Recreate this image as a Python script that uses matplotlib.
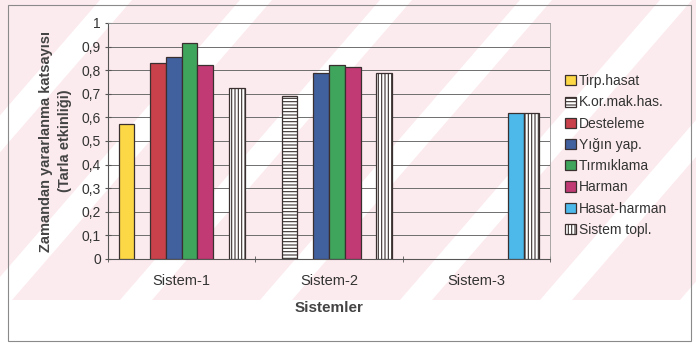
import numpy as np
import matplotlib.pyplot as plt
from matplotlib.patches import Rectangle, Polygon

plt.rcParams['font.family'] = ['Liberation Sans', 'DejaVu Sans']
plt.rcParams['hatch.linewidth'] = 0.8

# zamandan yararlanma katsayilari (tarla etkinligi)
sistemler = ['Sistem-1', 'Sistem-2', 'Sistem-3']
islemler = ['Tirp.hasat', 'K.or.mak.has.', 'Desteleme', 'Yığın yap.',
            'Tırmıklama', 'Harman', 'Hasat-harman', 'Sistem topl.']
degerler = {
    'Tirp.hasat':    [0.57, np.nan, np.nan],
    'K.or.mak.has.': [np.nan, 0.69, np.nan],
    'Desteleme':     [0.83, np.nan, np.nan],
    'Yığın yap.':    [0.855, 0.79, np.nan],
    'Tırmıklama':    [0.915, 0.82, np.nan],
    'Harman':        [0.82, 0.815, np.nan],
    'Hasat-harman':  [np.nan, np.nan, 0.62],
    'Sistem topl.':  [0.725, 0.79, 0.62],
}
renkler = ['#FCD846', 'white', '#C8414B', '#41609E', '#3FA45C',
           '#C23A74', '#4DB8EA', 'white']
taramalar = [None, '-----', None, None, None, None, None, '|||||']

W, H = 696, 345
fig = plt.figure(figsize=(W / 100, H / 100), dpi=100)


def piksel(pts):
    # piksel koordinatlarini (ust-sol orijin) sekil koordinatlarina cevir
    return [(px / W, 1 - py / H) for px, py in pts]


# arka plandaki soluk pembe zemin ve beyaz capraz seritler
fig.patches.append(Polygon(piksel([(0, 0), (W, 0), (W, 300), (0, 300)]),
                           closed=True, transform=fig.transFigure,
                           facecolor='#FCEBEE', edgecolor='none', zorder=-10))
for x0 in np.arange(-300, 900, 140):
    fig.patches.append(Polygon(piksel([(x0, 300), (x0 + 32, 300),
                                       (x0 + 32 + 260, 0), (x0 + 260, 0)]),
                               closed=True, transform=fig.transFigure,
                               facecolor='white', edgecolor='none', zorder=-9))

fig.patches.append(Rectangle((8 / W, 1 - 341 / H), 683 / W, 336 / H,
                             transform=fig.transFigure, facecolor='none',
                             edgecolor='#8a8a8a', lw=0.8, zorder=-5))

ax = fig.add_axes([108 / W, 1 - 259 / H, 442 / W, 236 / H])
ax.patch.set_alpha(0)

x = np.arange(len(sistemler))
w = 0.107
for i, ad in enumerate(islemler):
    ax.bar(x + (i - 3.5) * w, degerler[ad], width=w, color=renkler[i],
           edgecolor='#3a3030', linewidth=0.9, hatch=taramalar[i],
           label=ad, zorder=3)

ax.set_xlim(-0.5, 2.5)
ax.set_ylim(0, 1)
ax.set_yticks(np.arange(0, 1.01, 0.1))
ax.set_yticklabels(['0'] + [('%.1f' % v).replace('.', ',') for v in np.arange(0.1, 0.95, 0.1)] + ['1'])
ax.set_xticks(x)
ax.set_xticklabels(sistemler)
ax.set_xticks([-0.5, 0.5, 1.5, 2.5], minor=True)
ax.tick_params(axis='x', which='major', length=0, pad=11, labelsize=10.5)
ax.tick_params(axis='x', which='minor', length=4, direction='inout', color='#555555')
ax.tick_params(axis='y', length=4, direction='inout', color='#555555', pad=3,
               labelsize=10)
ax.tick_params(labelcolor='#333333')
ax.grid(axis='y', color='#6e6e6e', lw=0.7, zorder=0)
for s in ['top', 'right']:
    ax.spines[s].set_color('#9a9a9a')
    ax.spines[s].set_linewidth(0.6)
for s in ['left', 'bottom']:
    ax.spines[s].set_color('#555555')
    ax.spines[s].set_linewidth(0.8)

ax.set_ylabel('Zamandan yararlanma katsayısı\n(Tarla etkinliği)', fontsize=10.5,
              fontweight='bold', color='#444444', labelpad=7, linespacing=1.45)
ax.set_xlabel('Sistemler', fontsize=11, fontweight='bold', color='#444444',
              labelpad=9)

leg = ax.legend(loc='upper left', bbox_to_anchor=(559 / W, 1 - 68 / H),
                bbox_transform=fig.transFigure, fontsize=10, frameon=True,
                fancybox=False, edgecolor='#666666', handlelength=0.75,
                handleheight=0.75, handletextpad=0.25, labelspacing=0.52,
                borderpad=0.45, borderaxespad=0)
leg.get_frame().set_linewidth(0.7)
leg.get_frame().set_alpha(0.0)
for t in leg.get_texts():
    t.set_color('#333333')

fig.savefig('out.png', dpi=100)
